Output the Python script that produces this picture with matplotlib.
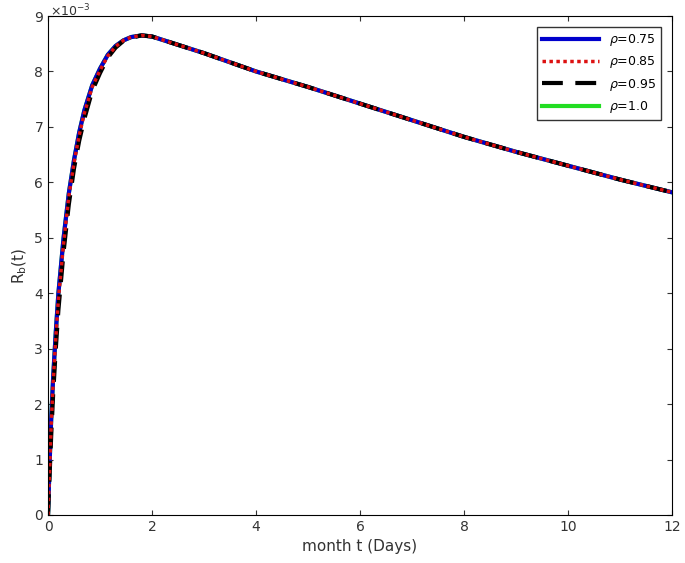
import matplotlib
matplotlib.use("Agg")
import matplotlib.pyplot as plt

t = [0, 0.03, 0.06, 0.1, 0.15, 0.2, 0.3, 0.4, 0.5, 0.6, 0.7, 0.85, 1.0, 1.15, 1.3, 1.45, 1.6, 1.8, 2.0, 3, 4, 5, 6, 7, 8, 9, 10, 11, 12]
r075 = [0, 0.9, 1.7, 2.5, 3.3, 4.0, 5.0, 5.8, 6.4, 6.9, 7.3, 7.75, 8.05, 8.3, 8.46, 8.56, 8.62, 8.65, 8.63, 8.33, 8.0, 7.72, 7.42, 7.12, 6.82, 6.55, 6.3, 6.05, 5.82]
r085 = [0, 0.8, 1.6, 2.4, 3.2, 3.9, 4.9, 5.75, 6.35, 6.85, 7.25, 7.72, 8.02, 8.28, 8.45, 8.56, 8.62, 8.65, 8.63, 8.33, 8.0, 7.72, 7.42, 7.12, 6.82, 6.55, 6.3, 6.05, 5.82]
r095 = [0, 0.7, 1.4, 2.2, 3.0, 3.7, 4.75, 5.6, 6.25, 6.75, 7.15, 7.65, 7.97, 8.25, 8.43, 8.55, 8.61, 8.65, 8.63, 8.33, 8.0, 7.72, 7.42, 7.12, 6.82, 6.55, 6.3, 6.05, 5.82]
r100 = r075

s = 1e-3
fig = plt.figure(figsize=(6.85, 5.63), dpi=100)
ax = fig.add_axes([48/685, 48/563, 624/685, 499/563])
l4, = ax.plot(t, [v*s for v in r100], color='#22dd22', lw=3, label=r'$\rho$=1.0')
l1, = ax.plot(t, [v*s for v in r075], color='#0000cc', lw=3, label=r'$\rho$=0.75')
l3, = ax.plot(t, [v*s for v in r095], color='black', lw=3, ls=(0, (5, 3)), label=r'$\rho$=0.95')
l2, = ax.plot(t, [v*s for v in r085], color='#dd1111', lw=2.5, ls=(0, (1, 1)), label=r'$\rho$=0.85')
ax.set_xlim(0, 12)
ax.set_ylim(0, 9e-3)
ax.set_xticks(range(0, 13, 2))
ax.set_yticks([i*1e-3 for i in range(10)])
ax.set_yticklabels([str(i) for i in range(10)])
fig.text(50/685, 1 - 3/563, r'$\times10^{-3}$', fontsize=9, color='#333333', va='top')
ax.tick_params(direction='in', top=True, right=True, labelsize=10, colors='#333333')
ax.set_xlabel('month t (Days)', fontsize=11, color='#333333')
ax.set_ylabel(r'R$_\mathrm{b}$(t)', fontsize=11, color='#333333')
ax.legend(handles=[l1, l2, l3, l4], loc='upper right', fontsize=9, fancybox=False,
          edgecolor='#333333', framealpha=1, handlelength=4.5, borderaxespad=0.9)
fig.savefig('out.png', dpi=100)
